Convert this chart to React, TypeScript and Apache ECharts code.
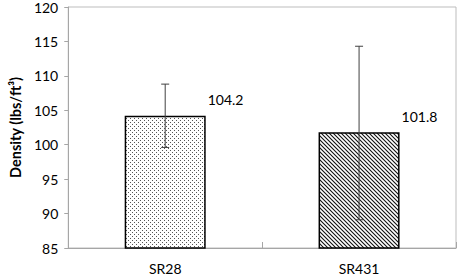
import React, { useEffect, useRef } from "react";
import * as echarts from "echarts";

const categories = ["SR28", "SR431"];
const densityValues = [104.2, 101.8];
const errorLow = [99.6, 89.1];
const errorHigh = [108.8, 114.3];
const yTicks = { min: 85, max: 120, interval: 5 };

function makeDots(): HTMLCanvasElement {
  const c = document.createElement("canvas");
  c.width = 4;
  c.height = 4;
  const ctx = c.getContext("2d")!;
  ctx.fillStyle = "#ffffff";
  ctx.fillRect(0, 0, 4, 4);
  ctx.fillStyle = "#555555";
  ctx.fillRect(0, 0, 1, 1);
  ctx.fillRect(2, 2, 1, 1);
  return c;
}

function makeHatch(): HTMLCanvasElement {
  const c = document.createElement("canvas");
  c.width = 4;
  c.height = 4;
  const ctx = c.getContext("2d")!;
  ctx.fillStyle = "#ffffff";
  ctx.fillRect(0, 0, 4, 4);
  ctx.strokeStyle = "#111111";
  ctx.lineWidth = 1.1;
  ctx.beginPath();
  ctx.moveTo(-1, -1);
  ctx.lineTo(5, 5);
  ctx.moveTo(-1, 3);
  ctx.lineTo(1, 5);
  ctx.moveTo(3, -1);
  ctx.lineTo(5, 1);
  ctx.stroke();
  return c;
}

export default function App() {
  const ref = useRef<HTMLDivElement>(null);
  useEffect(() => {
    document.body.style.margin = "0";
    if (!ref.current) return;
    const chart = echarts.init(ref.current, null, { renderer: "svg" });
    const patterns = [makeDots(), makeHatch()];
    const font = "Lato, 'Open Sans', sans-serif";
    chart.setOption({
      animation: false,
      backgroundColor: "#ffffff",
      grid: {
        left: 57,
        right: 1,
        top: 5,
        bottom: 25,
        show: true,
        borderColor: "#bdbdbd",
        borderWidth: 1,
        backgroundColor: "#ffffff",
      },
      xAxis: {
        type: "category",
        data: categories,
        axisLine: { lineStyle: { color: "#a6a6a6", width: 1 } },
        axisTick: { show: true, inside: true, length: 6, lineStyle: { color: "#a6a6a6" } },
        axisLabel: { color: "#000", fontFamily: font, fontSize: 14, margin: 13 },
      },
      yAxis: {
        type: "value",
        min: yTicks.min,
        max: yTicks.max,
        interval: yTicks.interval,
        name: "Density (lbs/ft³)",
        nameLocation: "middle",
        nameGap: 42,
        nameTextStyle: { color: "#000", fontFamily: font, fontSize: 14.5, fontWeight: "bold" },
        axisLine: { show: true, lineStyle: { color: "#a6a6a6", width: 1 } },
        axisTick: { show: true, length: 4, lineStyle: { color: "#a6a6a6" } },
        splitLine: { show: false },
        axisLabel: { color: "#000", fontFamily: font, fontSize: 14, margin: 10 },
      },
      series: [
        {
          type: "bar",
          barWidth: 81,
          data: densityValues.map((v, i) => ({
            value: v,
            itemStyle: {
              color: { image: patterns[i], repeat: "repeat", imageWidth: 4, imageHeight: 4 },
              borderColor: "#000",
              borderWidth: 1.5,
            },
          })),
          label: {
            show: true,
            position: [83, -16],
            align: "left",
            verticalAlign: "middle",
            color: "#000",
            fontFamily: font,
            fontSize: 14,
            formatter: (p: any) => p.value.toFixed(1),
          },
        },
        {
          type: "custom",
          data: categories.map((_, i) => [i, errorLow[i], errorHigh[i]]),
          z: 10,
          renderItem: (params: any, api: any) => {
            const x = api.value(0);
            const lo = api.coord([x, api.value(1)]);
            const hi = api.coord([x, api.value(2)]);
            const cap = 4;
            const style = { stroke: "#404040", lineWidth: 1 };
            return {
              type: "group",
              children: [
                { type: "line", shape: { x1: hi[0], y1: hi[1], x2: lo[0], y2: lo[1] }, style },
                { type: "line", shape: { x1: hi[0] - cap, y1: hi[1], x2: hi[0] + cap, y2: hi[1] }, style },
                { type: "line", shape: { x1: lo[0] - cap, y1: lo[1], x2: lo[0] + cap, y2: lo[1] }, style },
              ],
            };
          },
        },
      ],
    });
    return () => chart.dispose();
  }, []);
  return <div ref={ref} style={{ width: 457, height: 275 }} />;
}
